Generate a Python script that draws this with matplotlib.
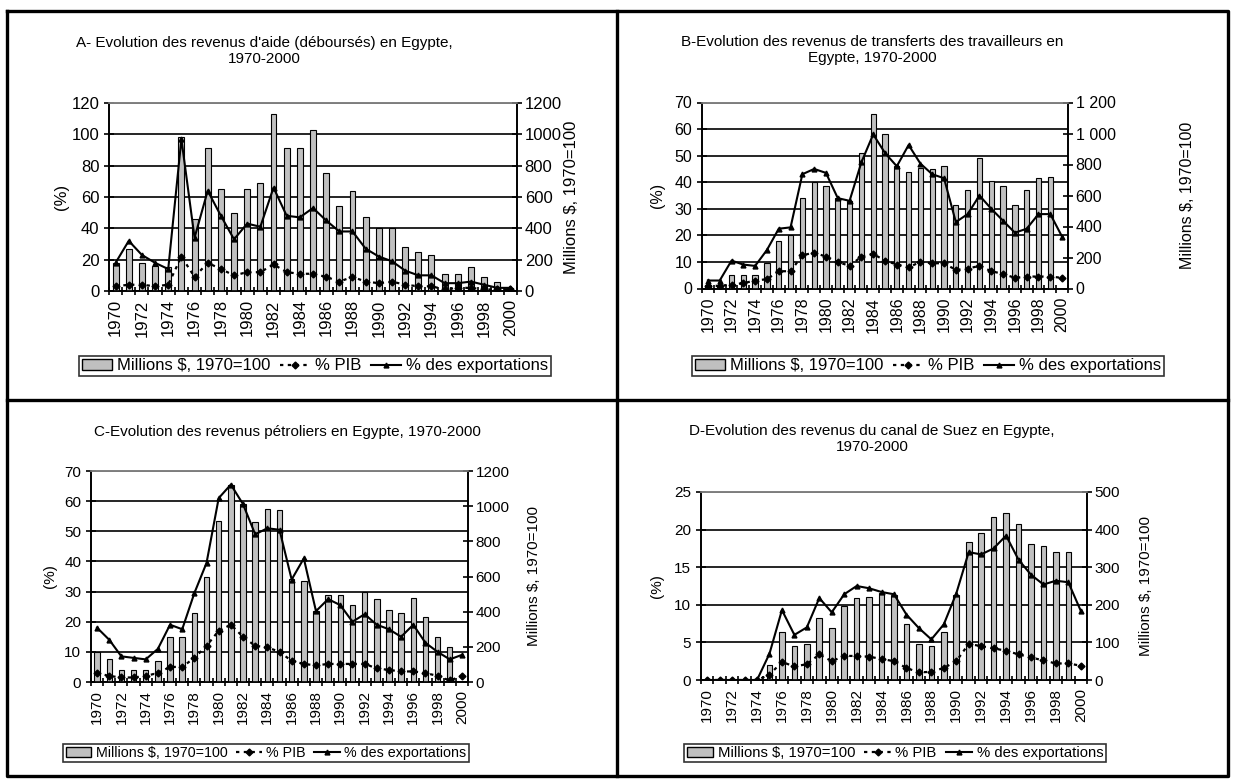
import numpy as np
import matplotlib
matplotlib.use('Agg')
import matplotlib.pyplot as plt
from matplotlib.lines import Line2D
from matplotlib.patches import Patch
from matplotlib.ticker import FixedLocator, FuncFormatter

plt.rcParams['font.family'] = ['Liberation Sans', 'DejaVu Sans']

years = list(range(1970, 2001))

# A - aide (déboursés)
a_mill = [180, 270, 180, 160, 150, 980, 460, 910, 650, 500, 650, 690, 1130, 910, 910, 1030,
          750, 540, 640, 470, 400, 400, 280, 250, 230, 110, 110, 150, 90, 60, 20]
a_exp = [18, 32, 23, 18, 14, 97, 34, 64, 48, 33, 43, 41, 66, 48, 47, 53,
         45, 38, 38, 27, 22, 19, 13, 10, 10, 5, 5, 6, 4, 2, 2]
a_pib = [3, 4, 4, 3, 4, 22, 9, 18, 14, 10, 12, 12, 17, 12, 11, 11,
         9, 6, 9, 6, 5, 6, 4, 3, 3, 1, 2, 2, 1, 1, 1]

# B - transferts des travailleurs
b_mill = [25, 20, 86, 86, 86, 163, 309, 343, 583, 686, 660, 583, 566, 874, 1123, 994,
          789, 754, 780, 771, 789, 540, 634, 840, 694, 660, 540, 634, 711, 720, np.nan]
b_exp = [3, 3, 10.5, 9, 8.5, 14.5, 22.5, 23, 43, 45, 43.5, 34, 33, 47.5, 58, 51,
         46, 54, 47, 43, 41.5, 25, 28, 35, 30, 25.5, 21, 22.5, 28, 28, 19.5]
b_pib = [1, 1, 1.5, 2, 3, 3.5, 6.5, 6.5, 12.5, 13.5, 12, 10, 8.5, 12, 13, 10.5,
         9, 8, 10, 9.5, 9.5, 7, 7.5, 8.5, 6.5, 5.5, 4, 4.5, 4.5, 4.5, 4]

# C - pétrole
c_mill = [171, 129, 69, 69, 69, 120, 257, 257, 394, 600, 917, 1123, 1011, 909, 986, 977,
          583, 574, 403, 497, 497, 437, 514, 471, 411, 394, 480, 369, 257, 197, np.nan]
c_exp = [18, 14, 8.5, 8, 7.5, 11, 19, 17.5, 29.5, 39.5, 61, 65.5, 59, 49, 51, 50.5,
         34, 41, 23.5, 27.5, 25.5, 20, 22.5, 19, 17.5, 15, 19, 13, 10, 7.5, 9]
c_pib = [3, 2, 1.5, 1.5, 2, 3, 5, 5, 8, 12, 17, 19, 15, 12, 11.5, 10,
         7, 6, 5.5, 6, 6, 6, 6, 4.5, 4, 3.5, 3.5, 3, 2, 0.5, 2]

# D - canal de Suez
d_mill = [0, 0, 0, 0, 0, 40, 128, 90, 96, 164, 138, 196, 218, 222, 232, 226,
          148, 96, 90, 128, 226, 368, 390, 434, 444, 416, 362, 356, 340, 340, np.nan]
d_exp = [0, 0, 0, 0, 0, 3.5, 9.3, 6, 7, 10.9, 9, 11.4, 12.5, 12.2, 11.7, 11.4,
         8.7, 6.9, 5.4, 7.4, 11.5, 17, 16.7, 17.5, 19.2, 16, 14, 12.7, 13.2, 13, 9.2]
d_pib = [0, 0, 0, 0, 0, 0.7, 2.4, 1.8, 2.1, 3.4, 2.5, 3.2, 3.2, 3.1, 2.8, 2.5,
         1.6, 1.0, 1.1, 1.6, 2.5, 4.8, 4.5, 4.2, 3.9, 3.4, 3.0, 2.6, 2.2, 2.2, 1.9]

W, H = 1233, 782
fig = plt.figure(figsize=(W / 100, H / 100), dpi=100)


def px_box(l, r, t, b):
    return [l / W, 1 - b / H, (r - l) / W, (b - t) / H]


def thousands(v, pos):
    return f"{int(v):,}".replace(',', ' ')


panels = [
    dict(box=(109, 517, 103, 291), mill=a_mill, exp=a_exp, pib=a_pib,
         ymax=120, ystep=20, y2max=1200, y2step=200, fmt=None, fs=12,
         title="A- Evolution des revenus d'aide (déboursés) en Egypte,\n1970-2000",
         tpos=(264, 51), lab1=62, lab2=571, leg=(315, 366), lfs=12),
    dict(box=(702, 1068, 102.5, 288.5), mill=b_mill, exp=b_exp, pib=b_pib,
         ymax=70, ystep=10, y2max=1200, y2step=200, fmt=thousands, fs=11.5,
         title="B-Evolution des revenus de transferts des travailleurs en\nEgypte, 1970-2000",
         tpos=(872, 50), lab1=657, lab2=1188, leg=(928, 366), lfs=12),
    dict(box=(91, 468, 471, 682), mill=c_mill, exp=c_exp, pib=c_pib,
         ymax=70, ystep=10, y2max=1200, y2step=200, fmt=None, fs=11,
         title="C-Evolution des revenus pétroliers en Egypte, 1970-2000",
         tpos=(287, 432), lab1=50, lab2=534, leg=(266, 753), lfs=10.3),
    dict(box=(701, 1087, 492, 680), mill=d_mill, exp=d_exp, pib=d_pib,
         ymax=25, ystep=5, y2max=500, y2step=100, fmt=None, fs=11,
         title="D-Evolution des revenus du canal de Suez en Egypte,\n1970-2000",
         tpos=(872, 439), lab1=657, lab2=1146, leg=(895, 753), lfs=10.7),
]

x = np.arange(len(years))

for p in panels:
    l, r, t, b = p['box']
    ax = fig.add_axes(px_box(l, r, t, b))
    ax2 = ax.twinx()
    ax3 = ax.twinx()

    ax.set_xlim(-0.5, len(years) - 0.5)
    ax.set_ylim(0, p['ymax'])
    ax2.set_ylim(0, p['y2max'])
    ax3.set_ylim(0, p['ymax'])

    # gridlines behind the bars
    yt = np.arange(0, p['ymax'] + 0.01, p['ystep'])
    ax.set_yticks(yt)
    ax.yaxis.grid(True, color='black', lw=1.2)
    ax.set_axisbelow(True)

    ax2.bar(x, p['mill'], width=0.45, color='#c0c0c0', edgecolor='black', lw=0.8)
    ax2.set_yticks(np.arange(0, p['y2max'] + 1, p['y2step']))
    if p['fmt']:
        ax2.yaxis.set_major_formatter(FuncFormatter(p['fmt']))

    lp, = ax3.plot(x, p['pib'], color='black', ls=(0, (1.5, 2)), lw=1.6,
                   marker='D', ms=3.5)
    le, = ax3.plot(x, p['exp'], color='black', ls='-', lw=1.5,
                   marker='^', ms=3.5)
    ax3.axis('off')

    # category axis: tick marks between categories, labels every 2 years
    ax.xaxis.set_minor_locator(FixedLocator(np.arange(-0.5, len(years), 1)))
    ax.set_xticks(x[::2])
    ax.set_xticklabels([str(y) for y in years[::2]], rotation=90, fontsize=p['fs'])
    ax.tick_params(axis='x', which='major', length=0, pad=6)
    ax.tick_params(axis='x', which='minor', length=6, direction='inout', width=1.2)
    ax.tick_params(axis='y', length=7, direction='inout', width=1.2, labelsize=p['fs'])
    ax2.tick_params(axis='y', length=7, direction='inout', width=1.2, labelsize=p['fs'], pad=2)
    for a in (ax, ax2):
        for s in a.spines.values():
            s.set_color('black')
            s.set_linewidth(1.2)
    ax.spines['top'].set_color('#808080')
    ax2.spines['top'].set_color('#808080')

    # titles and axis labels
    fig.text(p['tpos'][0] / W, 1 - p['tpos'][1] / H, p['title'], ha='center', va='center',
             fontsize=11, linespacing=1.15)
    ymid = 1 - ((t + b) / 2) / H
    fig.text(p['lab1'] / W, ymid, '(%)', rotation=90, ha='center', va='center', fontsize=p['fs'])
    fig.text(p['lab2'] / W, ymid, 'Millions $, 1970=100', rotation=90, ha='center',
             va='center', fontsize=p['fs'])

    handles = [Patch(facecolor='#c0c0c0', edgecolor='black'), lp, le]
    labels = ['Millions $, 1970=100', '% PIB', '% des exportations']
    leg = fig.legend(handles, labels, loc='center',
                     bbox_to_anchor=(p['leg'][0] / W, 1 - p['leg'][1] / H),
                     ncol=3, fontsize=p['lfs'], frameon=True, fancybox=False,
                     edgecolor='black', handlelength=1.8, handletextpad=0.3,
                     columnspacing=0.6, borderpad=0.15, borderaxespad=0)
    leg.get_frame().set_linewidth(1.2)

# outer frame and dividers
frame = dict(color='black', lw=2.4)
fig.add_artist(Line2D([7 / W, 1228 / W, 1228 / W, 7 / W, 7 / W],
                      [1 - 11 / H, 1 - 11 / H, 1 - 776 / H, 1 - 776 / H, 1 - 11 / H], **frame))
fig.add_artist(Line2D([617 / W, 617 / W], [1 - 11 / H, 1 - 776 / H], **frame))
fig.add_artist(Line2D([7 / W, 1228 / W], [1 - 400 / H, 1 - 400 / H], **frame))

fig.savefig('out.png', dpi=100)
